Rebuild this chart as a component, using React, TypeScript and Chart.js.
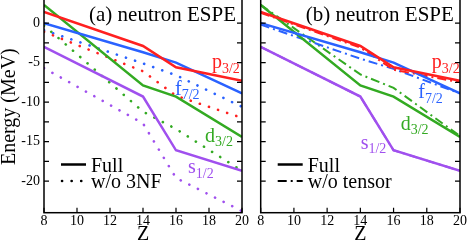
import React, { useEffect, useRef } from 'react';
import { Chart, registerables } from 'chart.js';

Chart.register(...registerables);

// ---- data ----
const zValues = [8, 14, 16, 20];
const xTickLabels = [8, 10, 12, 14, 16, 18, 20];
const yTickLabels = [0, -5, -10, -15, -20];

const p32Full = [1.4, -2.9, -5.6, -7.3];
const f72Full = [0.0, -3.7, -5.0, -8.9];
const d32Full = [2.3, -7.9, -9.3, -14.4];
const s12Full = [-3.0, -9.3, -16.1, -18.7];

const p32No3NF = [-1.1, -6.1, -9.2, -12.0];
const f72No3NF = [-0.9, -5.1, -6.6, -10.6];
const d32No3NF = [-0.3, -11.2, -13.4, -18.7];
const s12No3NF = [-5.7, -12.7, -19.6, -23.8];

const p32NoTensor = [1.3, -3.1, -5.9, -7.5];
const f72NoTensor = [-0.2, -4.5, -5.8, -8.9];
const d32NoTensor = [2.3, -6.5, -8.2, -14.3];
const s12NoTensor = [-3.0, -9.3, -16.1, -18.7];

const orbitNames = ['p', 'f', 'd', 's'];
const orbitSubs = ['3/2', '7/2', '3/2', '1/2'];

// ---- styles ----
const FONT = '"Liberation Serif", "Times New Roman", serif';
const COLORS = ['#ff2020', '#2a62ff', '#33aa22', '#a050ee'];
const DOT = [0.1, 9.5];
const DASHDOT = [9, 4, 2, 4];

// label anchors (data coords) per panel
const labelAnchorsA = [[18.18, -5.7], [15.94, -9.1], [17.76, -15.0], [16.73, -19.0]];
const labelAnchorsB = [[18.3, -5.7], [17.49, -9.5], [16.43, -13.5], [14.02, -15.9]];

const toPts = (vals: number[]) => zValues.map((z, i) => ({ x: z, y: vals[i] }));

type Panel = {
  title: string;
  legendAlt: string;
  altDash: number[];
  solid: number[][];
  alt: number[][];
  anchors: number[][];
  showY: boolean;
  padLeft: number;
  yWidth: number;
  padRight: number;
};

const panels: Panel[] = [
  {
    title: '(a) neutron ESPE',
    legendAlt: 'w/o 3NF',
    altDash: DOT,
    solid: [p32Full, f72Full, d32Full, s12Full],
    alt: [p32No3NF, f72No3NF, d32No3NF, s12No3NF],
    anchors: labelAnchorsA,
    showY: true,
    padLeft: 0,
    yWidth: 44,
    padRight: 225,
  },
  {
    title: '(b) neutron ESPE',
    legendAlt: 'w/o tensor',
    altDash: DASHDOT,
    solid: [p32Full, f72Full, d32Full, s12Full],
    alt: [p32NoTensor, f72NoTensor, d32NoTensor, s12NoTensor],
    anchors: labelAnchorsB,
    showY: false,
    padLeft: 250,
    yWidth: 10.7,
    padRight: 7,
  },
];

function makeDecor(panel: Panel) {
  return {
    id: 'decor',
    afterDraw(chart: any) {
      const ctx = chart.ctx as CanvasRenderingContext2D;
      const { left, right, top, bottom } = chart.chartArea;
      const xs = chart.scales.x;
      const ys = chart.scales.y;
      ctx.save();
      // frame
      ctx.strokeStyle = '#000';
      ctx.lineWidth = 1.5;
      ctx.setLineDash([]);
      ctx.strokeRect(left, top, right - left, bottom - top);
      // ticks (inward)
      ctx.lineWidth = 1.2;
      ctx.beginPath();
      ys.ticks.forEach((t: any) => {
        const py = ys.getPixelForValue(t.value);
        ctx.moveTo(left, py);
        ctx.lineTo(left + 5, py);
        ctx.moveTo(right - 5, py);
        ctx.lineTo(right, py);
      });
      xs.ticks.forEach((t: any) => {
        const px = xs.getPixelForValue(t.value);
        ctx.moveTo(px, bottom);
        ctx.lineTo(px, bottom - 5);
      });
      ctx.stroke();

      ctx.fillStyle = '#000';
      // title
      ctx.font = `21px ${FONT}`;
      ctx.textAlign = 'left';
      ctx.textBaseline = 'alphabetic';
      ctx.fillText(panel.title, left + 45, top + 22.1);

      // orbit labels
      panel.anchors.forEach((a, i) => {
        const px = xs.getPixelForValue(a[0]);
        const py = ys.getPixelForValue(a[1]);
        ctx.fillStyle = COLORS[i];
        ctx.font = `20px ${FONT}`;
        ctx.fillText(orbitNames[i], px, py);
        const w = ctx.measureText(orbitNames[i]).width;
        ctx.font = `14px ${FONT}`;
        ctx.fillText(orbitSubs[i], px + w, py + 4.5);
      });

      // legend
      const lx0 = left + 17;
      const lx1 = left + 42;
      const tx = left + 47;
      ctx.strokeStyle = '#000';
      ctx.lineWidth = 2.5;
      ctx.setLineDash([]);
      ctx.beginPath();
      ctx.moveTo(lx0, top + 165.9);
      ctx.lineTo(lx1, top + 165.9);
      ctx.stroke();
      const isDot = panel.altDash === DOT;
      ctx.setLineDash(panel.altDash);
      ctx.lineWidth = isDot ? 2.6 : 2;
      ctx.lineCap = isDot ? 'round' : 'butt';
      ctx.beginPath();
      ctx.moveTo(lx0 + (isDot ? 1 : 0), top + 182.4);
      ctx.lineTo(lx1, top + 182.4);
      ctx.stroke();
      ctx.setLineDash([]);
      ctx.lineCap = 'butt';
      ctx.fillStyle = '#000';
      ctx.font = `20px ${FONT}`;
      ctx.fillText('Full', tx, top + 172.9);
      ctx.fillText(panel.legendAlt, tx, top + 189.4);

      // x title
      ctx.font = `20px ${FONT}`;
      ctx.textAlign = 'center';
      ctx.fillText('Z', (left + right) / 2, bottom + 27.3);

      // y title
      if (panel.showY) {
        ctx.save();
        ctx.translate(9.5, (top + bottom) / 2 + 1);
        ctx.rotate(-Math.PI / 2);
        ctx.textAlign = 'center';
        ctx.textBaseline = 'middle';
        ctx.font = `20px ${FONT}`;
        ctx.fillText('Energy (MeV)', 0, 0);
        ctx.restore();
      }
      ctx.restore();
    },
  };
}

function buildChart(canvas: HTMLCanvasElement, panel: Panel) {
  const datasets: any[] = [];
  const isDot = panel.altDash === DOT;
  panel.solid.forEach((vals, i) => {
    datasets.push({
      data: toPts(vals),
      borderColor: COLORS[i],
      borderWidth: 2.5,
      pointRadius: 0,
      fill: false,
      tension: 0,
    });
  });
  panel.alt.forEach((vals, i) => {
    datasets.push({
      data: toPts(vals),
      borderColor: COLORS[i],
      borderWidth: isDot ? 2.6 : 2,
      borderDash: panel.altDash,
      borderCapStyle: isDot ? 'round' : 'butt',
      pointRadius: 0,
      fill: false,
      tension: 0,
    });
  });
  return new Chart(canvas, {
    type: 'line',
    data: { datasets },
    options: {
      animation: false,
      responsive: false,
      events: [],
      layout: { padding: { left: panel.padLeft, right: panel.padRight, top: 0.6, bottom: 0 } },
      plugins: { legend: { display: false }, tooltip: { enabled: false } },
      scales: {
        x: {
          type: 'linear',
          min: 8,
          max: 20,
          grid: { display: false, drawTicks: false },
          border: { display: false },
          ticks: {
            stepSize: 2,
            autoSkip: false,
            maxRotation: 0,
            padding: 0,
            color: '#000',
            font: { family: FONT, size: 14 },
            callback: (v: any) => (xTickLabels.includes(Number(v)) ? String(v) : ''),
          },
          afterFit: (s: any) => {
            s.height = 36.3;
            s.paddingLeft = 0;
            s.paddingRight = 0;
          },
        },
        y: {
          type: 'linear',
          min: -24,
          max: 3.1,
          grid: { display: false, drawTicks: false },
          border: { display: false },
          ticks: {
            display: panel.showY,
            stepSize: 2.5,
            autoSkip: false,
            padding: 4,
            color: '#000',
            font: { family: FONT, size: 14 },
            callback: (v: any) => (yTickLabels.includes(Number(v)) ? String(v) : ''),
          },
          afterBuildTicks: (s: any) => {
            s.ticks = s.ticks.filter((t: any) => {
              const k = t.value / 2.5;
              return Math.abs(k - Math.round(k)) < 1e-6 && t.value >= -24 && t.value <= 3.1;
            });
          },
          afterFit: (s: any) => {
            s.width = panel.yWidth;
            s.paddingTop = 0;
            s.paddingBottom = 0;
          },
        },
      },
    },
    plugins: [makeDecor(panel)],
  } as any);
}

export default function App() {
  const refA = useRef<HTMLCanvasElement>(null);
  const refB = useRef<HTMLCanvasElement>(null);
  useEffect(() => {
    const charts: Chart[] = [];
    if (refA.current) charts.push(buildChart(refA.current, panels[0]));
    if (refB.current) charts.push(buildChart(refB.current, panels[1]));
    return () => charts.forEach((c) => c.destroy());
  }, []);
  const cstyle: React.CSSProperties = { position: 'absolute', left: 0, top: -2, width: 467, height: 251 };
  return (
    <div style={{ position: 'fixed', left: 0, top: 0, width: 467, height: 249, overflow: 'hidden', background: '#fff' }}>
      <canvas ref={refA} width={467} height={251} style={cstyle} />
      <canvas ref={refB} width={467} height={251} style={cstyle} />
    </div>
  );
}
